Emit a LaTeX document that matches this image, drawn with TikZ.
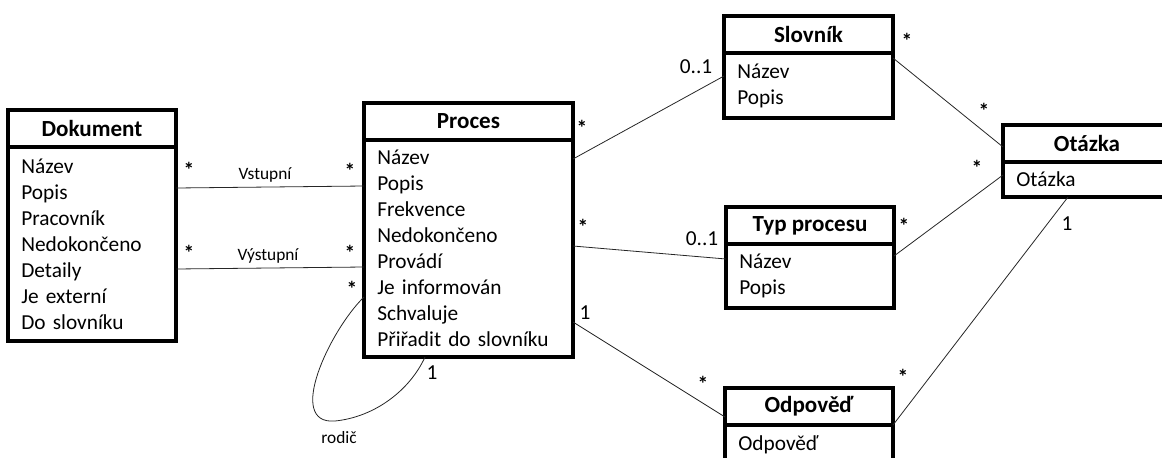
\documentclass[tikz,border=0pt]{standalone}
\usepackage{fontspec}
\setmainfont{Carlito}
\usetikzlibrary{positioning,calc}

\tikzset{
  trida/.style={draw, line width=2.5pt, outer sep=0pt, inner sep=0pt},
  hlava/.style={trida, minimum width=#1, minimum height=27.75pt,
    font=\fontsize{17.3}{20}\selectfont\bfseries},
  telo/.style={trida, text width=#1, inner xsep=10pt, align=left,
    font=\fontsize{16}{19.5}\selectfont},
  vazba/.style={line width=0.6pt, black!85},
  nasob/.style={font=\fontsize{16}{19}\selectfont, inner sep=0pt},
  hvezda/.style={nasob, font=\fontsize{16}{19}\selectfont\bfseries},
  popis/.style={font=\fontsize{13}{15}\selectfont, inner sep=0pt},
}

\begin{document}
\begin{tikzpicture}[x=0.75pt,y=-0.75pt]
    \clip (0,0) rectangle (1162,457);
    % tridy
    \node[hlava=126pt, anchor=north west] (dok) at (8,110) {Dokument};
    \node[telo=106pt, minimum height=145.5pt, below=0pt of dok] (dokB)
        {Název\\Popis\\Pracovník\\Nedokončeno\\Detaily\\Je externí\\Do slovníku};
    \node[hlava=156.75pt, anchor=north west] (proc) at (364,103) {Proces};
    \node[telo=136.75pt, minimum height=162.75pt, below=0pt of proc] (procB)
        {Název\\Popis\\Frekvence\\Nedokončeno\\Provádí\\Je informován\\Schvaluje\\Přiřadit do slovníku};
    \node[hlava=126.75pt, anchor=north west] (slov) at (724,16) {Slovník};
    \node[telo=106.75pt, minimum height=48.75pt, below=0pt of slov] (slovB) {Název\\Popis};
    \node[hlava=126pt, anchor=north west] (typ) at (726,207) {Typ procesu};
    \node[telo=106pt, minimum height=48pt, below=0pt of typ] (typB) {Název\\Popis};
    \node[hlava=126pt, anchor=north west] (odp) at (725,388) {Odpověď};
    \node[telo=106pt, minimum height=30pt, below=0pt of odp] (odpB) {Odpověď};
    \node[hlava=126pt, anchor=north west] (ota) at (1003,125) {Otázka};
    \node[telo=106pt, minimum height=26.25pt, below=0pt of ota] (otaB) {Otázka};

    % vazby
    \draw[vazba] ($(dokB.north east)+(0,41)$) -- ($(procB.north west)+(0,46)$);
    \draw[vazba] ($(dokB.north east)+(0,122)$) -- ($(procB.north west)+(0,127)$);
    \coordinate (smycka) at (335,421);
    \draw[vazba] ($(procB.north west)+(0,157)$) .. controls (330,330) and (285,425) .. (smycka)
        .. controls (375,417) and (410,390) .. ($(procB.south west)+(61,0)$);
    \draw[vazba] ($(procB.north east)+(0,19)$) -- ($(slovB.north west)+(0,23)$);
    \draw[vazba] ($(procB.north east)+(0,106)$) -- ($(typB.north west)+(0,15)$);
    \draw[vazba] ($(procB.north east)+(0,182)$) -- ($(odp.north west)+(0,29)$);
    \draw[vazba] ($(slovB.north east)+(0,5)$) -- ($(ota.north west)+(0,22)$);
    \draw[vazba] ($(typB.north east)+(0,12)$) -- ($(otaB.north west)+(0,13)$);
    \draw[vazba] (odp.south east) -- ($(otaB.south west)+(65,0)$);

    % popisky
    \node[popis] (vst) at (265,175) {Vstupní};
    \node[popis] (vys) at (268,256) {Výstupní};
    \node[popis] (rod) at (339,438) {rodič};
    \node[hvezda] (n1) at (189,170) {*};
    \node[hvezda] (n2) at (350,171) {*};
    \node[hvezda] (n3) at (189,253) {*};
    \node[hvezda] (n4) at (350,253) {*};
    \node[hvezda] (n5) at (352,289) {*};
    \node[nasob] (n6) at (432,373) {1};
    \node[hvezda] (n7) at (582,128) {*};
    \node[nasob] (n8) at (696,67) {0..1};
    \node[hvezda] (n9) at (583,227) {*};
    \node[nasob] (n10) at (702,239) {0..1};
    \node[nasob] (n11) at (585,313) {1};
    \node[hvezda] (n12) at (703,384) {*};
    \node[hvezda] (n13) at (907,41) {*};
    \node[hvezda] (n14) at (984,111) {*};
    \node[hvezda] (n15) at (904,226) {*};
    \node[hvezda] (n16) at (977,168) {*};
    \node[hvezda] (n17) at (903,377) {*};
    \node[nasob] (n18) at (1067,224) {1};
%    \draw[vazba] (odpB.east) -- (otaB.south);
\end{tikzpicture}
\end{document}
